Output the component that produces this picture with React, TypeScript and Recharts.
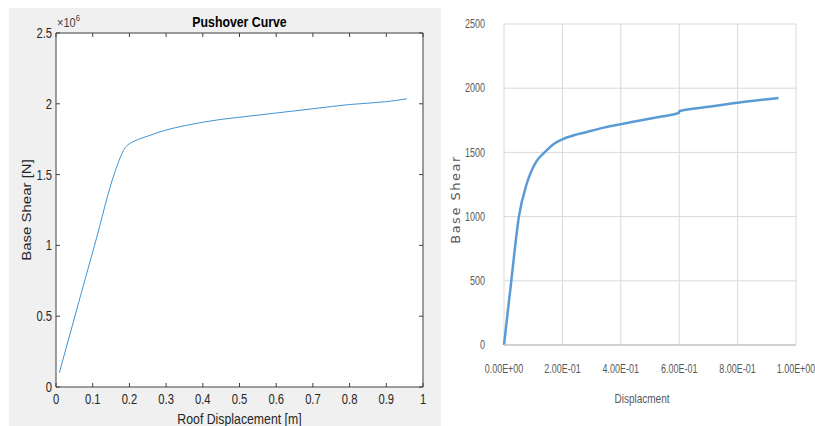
import React from 'react';
import { LineChart, Line, XAxis, YAxis, CartesianGrid } from 'recharts';

// Left chart (MATLAB style) data
const roofDisplacement = [0.009, 0.06, 0.105, 0.16, 0.175, 0.186, 0.196, 0.21, 0.25, 0.3, 0.35, 0.4, 0.45, 0.5, 0.6, 0.7, 0.8, 0.9, 0.956];
const baseShearN = [0.1e6, 0.58e6, 1.0e6, 1.515e6, 1.62e6, 1.68e6, 1.71e6, 1.732e6, 1.772e6, 1.815e6, 1.845e6, 1.87e6, 1.89e6, 1.905e6, 1.935e6, 1.965e6, 1.995e6, 2.015e6, 2.035e6];
const leftXTicks = [0, 0.1, 0.2, 0.3, 0.4, 0.5, 0.6, 0.7, 0.8, 0.9, 1];
const leftYTicks = [0, 0.5e6, 1e6, 1.5e6, 2e6, 2.5e6];

// Right chart (Excel style) data
const displacement = [0, 0.025, 0.051, 0.077, 0.091, 0.111, 0.139, 0.174, 0.2, 0.25, 0.3, 0.345, 0.4, 0.466, 0.53, 0.599, 0.601, 0.7, 0.8, 0.94];
const baseShear = [0, 500, 1000, 1250, 1340, 1430, 1500, 1571, 1602, 1640, 1668, 1695, 1720, 1748, 1776, 1809, 1822, 1855, 1887, 1924];
const rightXTicks = [0, 0.2, 0.4, 0.6, 0.8, 1];
const rightYTicks = [0, 500, 1000, 1500, 2000, 2500];

const leftData = roofDisplacement.map((x, i) => ({ x, y: baseShearN[i] }));
const rightData = displacement.map((x, i) => ({ x, y: baseShear[i] }));

const SANS = '"Liberation Sans", Arial, sans-serif';
const AX = '#404040';

const NoTick = () => <g />;

const sci = (v: number) => {
  const [m, e] = v.toExponential(2).split('e');
  const n = parseInt(e, 10);
  return `${m}E${n < 0 ? '-' : '+'}${String(Math.abs(n)).padStart(2, '0')}`;
};

type TickOpts = { anchor: 'middle' | 'end'; dy: string; sx: number; fontSize: number; fill: string; family: string };
const makeTick = (fmt: (v: number) => string, o: TickOpts) => (props: any) => {
  const { x, y, payload } = props;
  return (
    <text transform={`translate(${x},${y}) scale(${o.sx},1)`} textAnchor={o.anchor} dy={o.dy}
      fill={o.fill} fontSize={o.fontSize} fontFamily={o.family}>
      {fmt(payload.value)}
    </text>
  );
};

// label for a left y-axis: offset = distance of text centre left of the plot edge
const makeYLabel = (text: string, offset: number, dy: number, sy: number, style: React.CSSProperties) => (props: any) => {
  const vb = props.viewBox || {};
  const cx = (vb.x ?? 0) + (vb.width ?? 0) - offset;
  const cy = (vb.y ?? 0) + (vb.height ?? 0) / 2 + dy;
  return (
    <text transform={`translate(${cx},${cy}) rotate(-90) scale(1,${sy})`} textAnchor="middle" dominantBaseline="central" style={style}>
      {text}
    </text>
  );
};

// label for a bottom x-axis: offset = distance of text centre below the plot edge
const makeXLabel = (text: string, offset: number, dx: number, sx: number, style: React.CSSProperties) => (props: any) => {
  const vb = props.viewBox || {};
  const cx = (vb.x ?? 0) + (vb.width ?? 0) / 2 + dx;
  const cy = (vb.y ?? 0) + offset;
  return (
    <text transform={`translate(${cx},${cy}) scale(${sx},1)`} textAnchor="middle" dominantBaseline="central" style={style}>
      {text}
    </text>
  );
};

const leftTickX = makeTick((v) => String(v), { anchor: 'middle', dy: '0.71em', sx: 0.8, fontSize: 14, fill: '#262626', family: SANS });
const leftTickY = makeTick((v) => String(v / 1e6), { anchor: 'end', dy: '0.355em', sx: 0.8, fontSize: 14, fill: '#262626', family: SANS });
const rightTickX = makeTick(sci, { anchor: 'middle', dy: '0.71em', sx: 0.75, fontSize: 12, fill: '#595959', family: SANS });
const rightTickY = makeTick((v) => String(v), { anchor: 'end', dy: '0.355em', sx: 0.75, fontSize: 12, fill: '#595959', family: SANS });

export default function App() {
  return (
    <div style={{ position: 'absolute', left: 0, top: 0, width: 815, height: 426, background: '#fff', overflow: 'hidden' }}>
      {/* Left MATLAB figure */}
      <div style={{ position: 'absolute', left: 9, top: 8, width: 432, height: 418, background: '#f0f0f0' }}>
        <LineChart width={432} height={418} data={leftData} margin={{ top: 24, right: 17, bottom: 9, left: 7 }}>
          <CartesianGrid xAxisId="b" yAxisId="l" horizontal={false} vertical={false} fill="#ffffff" stroke="none" />
          <XAxis
            xAxisId="b" dataKey="x" type="number" domain={[0, 1]} ticks={leftXTicks} interval={0}
            tickLine={{ stroke: AX }} tickSize={-4} tickMargin={11} height={30}
            axisLine={{ stroke: AX }} tick={leftTickX}
            label={makeXLabel('Roof Displacement [m]', 32, 0, 0.82, { fill: '#262626', fontSize: 15, fontFamily: SANS })}
          />
          <XAxis xAxisId="t" dataKey="x" type="number" domain={[0, 1]} ticks={leftXTicks} interval={0} orientation="top" height={1}
            tick={NoTick} tickSize={-4} tickMargin={0} axisLine={{ stroke: AX }} tickLine={{ stroke: AX }} />
          <YAxis
            yAxisId="l" dataKey="y" type="number" domain={[0, 2.5e6]} ticks={leftYTicks} interval={0}
            tickLine={{ stroke: AX }} tickSize={-4} tickMargin={8} width={40}
            axisLine={{ stroke: AX }} tick={leftTickY}
            label={makeYLabel('Base Shear [N]', 30, 0, 0.85, { fill: '#262626', fontSize: 15, fontFamily: SANS })}
          />
          <YAxis yAxisId="r" dataKey="y" type="number" domain={[0, 2.5e6]} ticks={leftYTicks} interval={0} orientation="right" width={1}
            tick={NoTick} tickSize={-4} tickMargin={0} axisLine={{ stroke: AX }} tickLine={{ stroke: AX }} />
          <Line xAxisId="b" yAxisId="l" dataKey="y" type="monotone" stroke="#3f94d3" strokeWidth={1} dot={false} isAnimationActive={false} />
        </LineChart>
        <div style={{ position: 'absolute', left: 47, top: 6, width: 367, textAlign: 'center', fontFamily: SANS, fontWeight: 'bold', fontSize: 15, lineHeight: '16px', color: '#000', transform: 'scaleX(0.82)' }}>
          Pushover Curve
        </div>
        <div style={{ position: 'absolute', left: 48, top: 8, fontFamily: SANS, fontSize: 13, lineHeight: '14px', color: '#404040', whiteSpace: 'nowrap', transform: 'scaleX(0.85)', transformOrigin: 'left center' }}>
          ×10<span style={{ fontSize: 9, position: 'relative', top: -6 }}>6</span>
        </div>
      </div>

      {/* Right Excel chart */}
      <div style={{ position: 'absolute', left: 441, top: 0, width: 374, height: 426 }}>
        <LineChart width={374} height={426} data={rightData} margin={{ top: 24, right: 19, bottom: 51, left: 23 }}>
          <CartesianGrid stroke="#d9d9d9" strokeWidth={1} />
          <XAxis
            dataKey="x" type="number" domain={[0, 1]} ticks={rightXTicks} interval={0}
            axisLine={{ stroke: '#c8c8c8', strokeWidth: 1.5 }} tickLine={false} tickSize={0} tickMargin={19} height={30}
            tick={rightTickX}
            label={makeXLabel('Displacment', 53, -8, 0.77, { fill: '#595959', fontSize: 13, fontFamily: SANS })}
          />
          <YAxis
            dataKey="y" type="number" domain={[0, 2500]} ticks={rightYTicks} interval={0} axisLine={false} tickLine={false}
            tickSize={0} tickMargin={19} width={40} tick={rightTickY}
            label={makeYLabel('Base Shear', 48, 15, 0.9, { fill: '#595959', fontSize: 13, fontFamily: '"DejaVu Sans", sans-serif', letterSpacing: 1.5 })}
          />
          <Line dataKey="y" type="monotone" stroke="#5b9bd5" strokeWidth={2.5} dot={false} isAnimationActive={false} />
        </LineChart>
      </div>
    </div>
  );
}
